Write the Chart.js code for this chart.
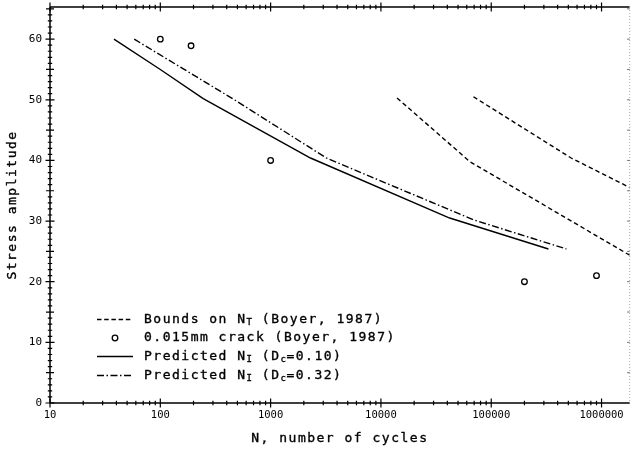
<!DOCTYPE html>
<html>
<head>
<meta charset="utf-8">
<script src="https://cdn.jsdelivr.net/npm/chart.js@4/dist/chart.umd.min.js"></script>
<style>
  html, body { margin: 0; padding: 0; background: #fff; }
  canvas { display: block; }
</style>
</head>
<body>
<canvas id="fatigue" width="635" height="451"></canvas>
<script>
// Bounds on N_T (two dashed curves)
const boundLowN = [14000, 64000, 3000000];
const boundLowS = [50.3, 39.8, 22.0];
const boundHighN = [69000, 530000, 3000000];
const boundHighS = [50.5, 40.4, 33.5];

// 0.015mm crack measurements
const crackN = [100, 190, 1000, 200000, 900000];
const crackS = [60, 58.9, 40, 20, 21];

// Predicted N_I, Dc = 0.10 and Dc = 0.32
const predN010 = [38, 100, 245, 2300, 42000, 330000];
const predS010 = [60, 55, 50.2, 40.4, 30.5, 25.4];
const predN032 = [58, 470, 3200, 69000, 480000];
const predS032 = [60, 50, 40.4, 30.2, 25.4];

// axis labels
const xTicks = [10, 100, 1000, 10000, 100000, 1000000];
const yTicks = [0, 10, 20, 30, 40, 50, 60];

const MONO = '"DejaVu Sans Mono", "Liberation Mono", monospace';

const pts = (xs, ys) => xs.map((x, i) => ({ x: x, y: ys[i] }));

const lineSet = (data, dash) => ({
    data: data,
    showLine: true,
    borderColor: '#000',
    borderWidth: 1.4,
    borderDash: dash,
    pointRadius: 0,
    tension: 0,
    clip: 0
});

// axes frame with plotter style tick marks
const frame = {
    id: 'frame',
    afterDatasetsDraw(chart) {
        const { ctx, chartArea: a, scales: { x, y } } = chart;
        ctx.save();
        ctx.strokeStyle = '#000';
        ctx.lineWidth = 1.5;
        ctx.beginPath();
        ctx.moveTo(a.left, a.top); ctx.lineTo(a.left, a.bottom);
        ctx.moveTo(a.left, a.bottom); ctx.lineTo(a.right, a.bottom);
        ctx.moveTo(a.left, a.top); ctx.lineTo(a.right, a.top);
        ctx.stroke();

        // x ticks (top and bottom), crossing the axis
        ctx.lineWidth = 1.2;
        ctx.beginPath();
        for (let d = 1; d <= 6; d++) {
            for (let m = 1; m <= 9; m++) {
                const v = m * Math.pow(10, d);
                if (v > x.max) break;
                const px = x.getPixelForValue(v);
                const h = m === 1 ? 4.5 : 2.2;
                [a.top, a.bottom].forEach(py => {
                    ctx.moveTo(px, py - h); ctx.lineTo(px, py + h);
                });
            }
        }
        // y ticks on the left axis
        for (let v = 0; v <= y.max; v++) {
            const py = y.getPixelForValue(v);
            const h = v % 10 === 0 ? 4.5 : (v % 5 === 0 ? 4 : 2.2);
            ctx.moveTo(a.left - h, py); ctx.lineTo(a.left + h, py);
        }
        ctx.stroke();

        // faint right axis
        ctx.strokeStyle = '#aaa';
        ctx.lineWidth = 1;
        ctx.setLineDash([1, 2]);
        ctx.beginPath();
        ctx.moveTo(a.right, a.top); ctx.lineTo(a.right, a.bottom);
        ctx.stroke();
        ctx.setLineDash([]);
        ctx.strokeStyle = '#666';
        ctx.beginPath();
        for (let v = 5; v <= y.max; v += 5) {
            const py = y.getPixelForValue(v);
            ctx.moveTo(a.right - 2.5, py); ctx.lineTo(a.right, py);
        }
        ctx.stroke();
        ctx.restore();
    }
};

// filled text with a thin outline, closer to the plotter pen weight
function penText(ctx, s, x, y) {
    ctx.fillText(s, x, y);
    ctx.strokeText(s, x, y);
}

// draws text runs with subscripts, returns end x
function drawRuns(ctx, runs, x0, yMid) {
    let xPos = x0;
    runs.forEach(r => {
        const sub = r[1] === 'sub';
        ctx.font = (sub ? '9px ' : '13px ') + MONO;
        ctx.letterSpacing = sub ? '0.5px' : '1.5px';
        penText(ctx, r[0], xPos, yMid + (sub ? 3.5 : 0));
        xPos += ctx.measureText(r[0]).width;
    });
    return xPos;
}

const legendAndTitles = {
    id: 'legendAndTitles',
    afterDraw(chart) {
        const { ctx, chartArea: a } = chart;
        ctx.save();
        ctx.fillStyle = '#000';
        ctx.strokeStyle = '#000';
        ctx.textBaseline = 'middle';
        ctx.textAlign = 'left';

        const sx0 = a.left + 47, sx1 = a.left + 83, tx = a.left + 94;
        const rows = [
            { y: 319.5, kind: 'dash', runs: [['Bounds on N'], ['T', 'sub'], [' (Boyer, 1987)']] },
            { y: 338, kind: 'dot', runs: [['0.015mm crack (Boyer, 1987)']] },
            { y: 356.5, kind: 'solid', runs: [['Predicted N'], ['I', 'sub'], [' (D'], ['c', 'sub'], ['=0.10)']] },
            { y: 375.5, kind: 'dashdot', runs: [['Predicted N'], ['I', 'sub'], [' (D'], ['c', 'sub'], ['=0.32)']] }
        ];
        rows.forEach(r => {
            ctx.lineWidth = 1.4;
            if (r.kind === 'dot') {
                ctx.beginPath();
                ctx.arc((sx0 + sx1) / 2, r.y, 2.8, 0, Math.PI * 2);
                ctx.lineWidth = 1.3;
                ctx.stroke();
            } else {
                ctx.setLineDash(r.kind === 'dash' ? [4.5, 2.7] : (r.kind === 'dashdot' ? [7, 2.5, 1.5, 2.5] : []));
                ctx.beginPath();
                ctx.moveTo(sx0, r.y); ctx.lineTo(sx1, r.y);
                ctx.stroke();
                ctx.setLineDash([]);
            }
            ctx.lineWidth = 0.35;
            drawRuns(ctx, r.runs, tx, r.y);
        });

        // axis titles
        ctx.font = '13px ' + MONO;
        ctx.letterSpacing = '1.5px';
        ctx.textAlign = 'center';
        ctx.lineWidth = 0.35;
        penText(ctx, 'N, number of cycles', (a.left + a.right) / 2, 439);
        ctx.translate(13, (a.top + a.bottom) / 2);
        ctx.rotate(-Math.PI / 2);
        penText(ctx, 'Stress amplitude', 0, 0);
        ctx.restore();
    }
};

new Chart(document.getElementById('fatigue'), {
    type: 'scatter',
    data: {
        datasets: [
            lineSet(pts(boundLowN, boundLowS), [4.5, 3]),
            lineSet(pts(boundHighN, boundHighS), [4.5, 3]),
            {
                data: pts(crackN, crackS),
                pointStyle: 'circle',
                pointRadius: 2.8,
                pointBorderWidth: 1.3,
                pointBorderColor: '#000',
                pointBackgroundColor: 'rgba(0,0,0,0)',
                clip: 0
            },
            lineSet(pts(predN010, predS010), []),
            lineSet(pts(predN032, predS032), [7, 2.5, 1.5, 2.5])
        ]
    },
    options: {
        responsive: false,
        animation: false,
        layout: { padding: { top: 7, right: 2.5, left: 0, bottom: 0 } },
        plugins: {
            legend: { display: false },
            tooltip: { enabled: false }
        },
        scales: {
            x: {
                type: 'logarithmic',
                min: 10,
                max: 1800000,
                grid: { display: false, drawTicks: false },
                border: { display: false },
                afterBuildTicks: s => { s.ticks = xTicks.map(v => ({ value: v })); },
                afterFit: s => { s.height = 48; s.paddingLeft = 0; s.paddingRight = 0; },
                ticks: {
                    autoSkip: false,
                    maxRotation: 0,
                    padding: 6,
                    color: '#000',
                    font: { family: MONO, size: 10.5 },
                    callback: v => String(v)
                }
            },
            y: {
                min: 0,
                max: 65.3,
                grid: { display: false, drawTicks: false },
                border: { display: false },
                afterBuildTicks: s => { s.ticks = yTicks.map(v => ({ value: v })); },
                afterFit: s => { s.width = 50; s.paddingTop = 0; s.paddingBottom = 0; },
                ticks: {
                    padding: 8,
                    color: '#000',
                    font: { family: MONO, size: 11 },
                    callback: v => String(v)
                }
            }
        }
    },
    plugins: [frame, legendAndTitles]
});
</script>
</body>
</html>
